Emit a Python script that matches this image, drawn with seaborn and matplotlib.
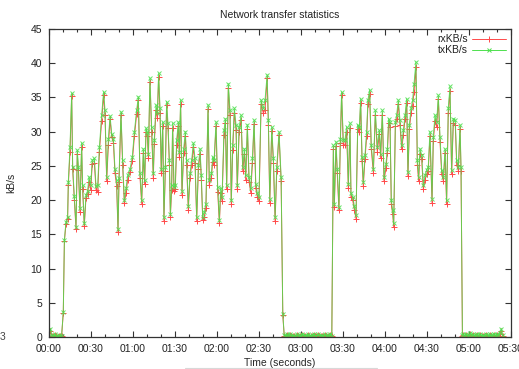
import matplotlib
matplotlib.use("Agg")
import matplotlib.pyplot as plt
import pandas as pd
import seaborn as sns
from matplotlib.ticker import MultipleLocator, FuncFormatter
from matplotlib.lines import Line2D

# --- idle period before the first transfer -------------------------------
idle1_t = [0, 1, 2, 3, 4, 5, 6, 7, 8, 9]
idle1_tx = [0.2, 1.2, 0.3, 0.1, 0.4, 0.2, 0.0, 0.3, 0.1, 0.2]
idle1_rx = [0.1, 0.9, 0.2, 0.1, 0.3, 0.1, 0.0, 0.2, 0.1, 0.1]

# --- first transfer --------------------------------------------------------
burst1_t = [10.2, 11.0, 12.1, 13.3, 13.8, 15.0, 16.2, 16.9, 18.1, 19.3,
            20.2, 21.0, 22.1, 23.3, 24.0, 25.2, 26.4, 27.6, 28.6, 29.8,
            30.9, 32.4, 33.6, 34.8, 36.0, 37.6, 39.0, 40.0, 41.2, 42.4,
            43.6, 44.8, 46.0, 47.1, 48.3, 49.3, 50.0, 51.4, 52.6, 53.8,
            55.0, 56.2, 57.9, 59.5, 61.0, 62.6, 63.8, 65.0, 66.2, 67.4,
            68.3, 69.3, 70.2, 71.0, 72.1, 73.3, 74.5, 75.2, 76.4, 77.4,
            78.3, 79.3, 80.2, 81.2, 82.1, 83.1, 84.0, 85.0, 86.0, 86.7,
            87.6, 88.3, 89.3, 90.2, 91.2, 92.4, 93.1, 94.0, 95.0, 96.2,
            97.4, 98.3, 99.5, 100.7, 101.9, 103.1, 104.3, 105.5, 106.7, 107.9,
            108.8, 109.8, 111.0, 112.1, 113.6, 114.5, 116.0, 116.9, 117.9, 119.3,
            120.5, 121.7, 122.6, 123.6, 125.0, 126.0, 126.9, 128.1, 129.3, 130.2,
            131.2, 132.4, 133.6, 134.5, 135.8, 137.2, 138.4, 139.6, 140.5, 141.7,
            142.9, 144.1, 145.3, 146.5, 147.7, 148.9, 150.0, 151.5, 153.1, 154.3,
            155.8, 156.7, 157.7, 159.1, 160.3, 161.5, 162.7, 164.3, 165.8, 167.0]
burst1_tx = [3.65, 14.2, 16.8, 17.6, 22.7, 27.8, 35.6, 24.9, 20.6, 16.1,
             27.3, 24.9, 18.8, 28.3, 22.2, 16.6, 20.7, 21.4, 23.4, 22.2,
             25.8, 26.1, 22.0, 22.2, 27.7, 32.4, 35.8, 33.2, 23.4, 28.9,
             32.3, 29.7, 29.0, 24.6, 22.9, 15.8, 23.2, 32.9, 25.8, 20.0,
             21.7, 23.6, 24.6, 26.3, 30.0, 33.1, 35.1, 23.9, 20.0, 27.5,
             22.9, 30.5, 30.0, 26.8, 37.8, 30.7, 23.9, 28.8, 33.9, 32.7,
             38.5, 33.4, 24.6, 31.4, 17.5, 24.9, 34.4, 31.2, 25.8, 18.0,
             22.2, 31.2, 21.9, 22.2, 28.8, 31.4, 27.0, 34.6, 21.4, 27.5,
             30.0, 25.8, 19.2, 23.9, 25.8, 28.3, 26.1, 17.5, 25.1, 27.5,
             23.6, 17.5, 18.3, 19.5, 33.9, 22.9, 23.9, 26.3, 25.8, 31.4,
             21.9, 17.1, 21.7, 20.5, 30.2, 31.9, 22.2, 37.0, 33.1, 20.0,
             28.0, 33.4, 31.0, 22.2, 30.7, 32.4, 24.9, 27.5, 23.6, 31.0,
             23.4, 21.7, 26.1, 31.7, 22.4, 21.0, 20.5, 34.6, 33.4, 34.6,
             38.3, 31.7, 20.2, 30.7, 26.1, 17.5, 24.9, 30.0, 23.4, 3.4]
burst1_rx = [3.5, 14.0, 16.5, 17.3, 22.2, 27.0, 35.2, 24.5, 20.0, 15.8,
             26.8, 24.4, 18.3, 27.8, 21.6, 16.2, 20.3, 20.9, 22.6, 21.5,
             25.3, 25.4, 21.5, 21.2, 27.1, 31.6, 35.3, 32.4, 22.8, 28.0,
             31.8, 29.2, 28.4, 24.0, 22.1, 15.4, 22.7, 32.4, 25.1, 19.6,
             21.0, 23.0, 24.1, 25.7, 29.3, 32.6, 34.6, 23.3, 19.5, 26.9,
             22.3, 29.9, 29.4, 26.1, 37.3, 30.0, 23.2, 28.2, 33.1, 32.0,
             38.0, 32.7, 24.0, 30.8, 17.0, 24.2, 33.9, 30.5, 25.2, 17.6,
             21.5, 30.6, 21.3, 21.6, 28.1, 30.9, 26.3, 34.0, 20.8, 26.9,
             29.3, 25.2, 18.6, 23.3, 25.1, 27.7, 25.4, 17.0, 24.5, 26.8,
             23.0, 17.1, 17.6, 18.9, 33.3, 22.2, 23.3, 25.6, 25.2, 30.8,
             21.2, 16.6, 21.0, 19.9, 29.5, 31.3, 21.6, 36.4, 32.4, 19.5,
             27.3, 32.8, 30.3, 21.6, 30.0, 31.7, 24.3, 26.8, 23.0, 30.4,
             22.7, 21.1, 25.4, 31.1, 21.7, 20.4, 19.8, 34.0, 32.7, 33.2,
             37.8, 31.0, 19.6, 30.1, 25.4, 16.9, 24.3, 29.5, 22.8, 3.2]

# --- idle period between the transfers ------------------------------------
idle2_t = list(range(168, 203))
idle2_tx = [0.3, 0.1, 0.4, 0.2, 0.5, 0.1, 0.3, 0.2, 0.0, 0.4,
            0.2, 0.3, 0.1, 0.5, 0.2, 0.3, 0.1, 0.4, 0.2, 0.1,
            0.3, 0.5, 0.2, 0.1, 0.4, 0.2, 0.3, 0.1, 0.2, 0.4,
            0.1, 0.3, 0.2, 0.5, 0.1]
idle2_rx = [0.2, 0.1, 0.3, 0.1, 0.3, 0.1, 0.2, 0.1, 0.0, 0.3,
            0.1, 0.2, 0.1, 0.3, 0.1, 0.2, 0.1, 0.3, 0.1, 0.1,
            0.2, 0.3, 0.1, 0.1, 0.3, 0.1, 0.2, 0.1, 0.1, 0.3,
            0.1, 0.2, 0.1, 0.3, 0.1]

# --- second transfer ------------------------------------------------------
burst2_t = [203.1, 203.8, 205.0, 205.9, 207.1, 208.1, 209.0, 210.2, 211.4, 212.6,
            213.8, 215.0, 215.7, 216.9, 218.1, 219.3, 220.5, 221.7, 222.6, 223.6,
            224.5, 225.7, 226.9, 227.8, 229.0, 230.2, 231.7, 233.1, 234.5, 235.9,
            236.9, 238.1, 239.3, 240.7, 241.7, 242.6, 243.6, 244.5, 245.5, 246.2,
            247.4, 248.3, 249.5, 250.7, 251.9, 253.1, 254.3, 255.5, 256.4, 257.4,
            258.6, 259.7, 260.7, 262.1, 263.1, 264.0, 265.0, 266.2, 267.4, 268.6,
            269.7, 270.9, 272.1, 273.6, 274.5, 275.7, 276.9, 278.1, 279.3, 280.5,
            281.7, 282.9, 284.0, 285.2, 286.4, 287.6, 288.8, 290.2, 291.2, 292.4,
            293.6, 294.3, 295.3]
burst2_tx = [28.0, 19.5, 28.5, 24.6, 19.0, 29.0, 35.8, 28.8, 28.8, 30.7,
             22.4, 31.2, 21.0, 20.5, 19.2, 17.8, 31.0, 30.7, 34.8, 26.3,
             22.7, 26.6, 30.0, 34.6, 36.1, 28.0, 24.6, 33.1, 27.8, 30.2,
             26.8, 33.1, 23.4, 25.3, 27.5, 31.9, 31.4, 20.0, 18.5, 16.6,
             31.4, 32.4, 34.6, 31.7, 28.0, 30.2, 32.4, 34.8, 24.1, 31.0,
             33.4, 34.6, 37.0, 40.2, 25.8, 23.4, 27.5, 26.6, 22.2, 23.6,
             24.4, 24.9, 30.0, 20.2, 29.2, 32.4, 31.4, 35.3, 29.2, 24.4,
             23.4, 27.5, 20.0, 33.4, 36.6, 24.4, 31.9, 31.7, 25.8, 24.9,
             31.0, 24.9, 0.3]
burst2_rx = [27.4, 19.0, 27.9, 23.9, 18.5, 28.3, 35.3, 28.0, 28.1, 30.0,
             21.8, 30.6, 20.4, 20.0, 18.6, 17.3, 30.4, 30.0, 34.2, 25.7,
             22.1, 26.0, 29.3, 34.0, 35.5, 27.4, 24.0, 32.5, 27.1, 29.6,
             26.2, 32.5, 22.8, 24.7, 26.9, 31.3, 30.7, 19.4, 17.9, 16.1,
             30.8, 31.8, 34.0, 31.0, 27.4, 29.5, 31.8, 34.2, 23.5, 30.4,
             32.7, 33.8, 35.8, 39.5, 25.2, 22.8, 26.8, 26.0, 21.6, 23.0,
             23.8, 24.3, 29.3, 19.6, 28.6, 31.6, 30.7, 34.7, 28.5, 23.8,
             22.8, 26.9, 19.4, 32.8, 36.0, 23.8, 31.2, 31.0, 25.1, 24.3,
             30.4, 24.3, 0.2]

# --- idle period after the second transfer --------------------------------
idle3_t = list(range(296, 325))
idle3_tx = [0.4, 0.2, 0.5, 0.1, 0.3, 0.6, 0.2, 0.4, 0.1, 0.3,
            0.5, 0.2, 0.4, 0.1, 0.3, 0.2, 0.5, 0.3, 0.1, 0.4,
            0.2, 0.3, 0.5, 0.2, 0.4, 0.3, 0.6, 1.2, 0.3]
idle3_rx = [0.3, 0.1, 0.3, 0.1, 0.2, 0.4, 0.1, 0.3, 0.1, 0.2,
            0.3, 0.1, 0.3, 0.1, 0.2, 0.1, 0.3, 0.2, 0.1, 0.3,
            0.1, 0.2, 0.3, 0.1, 0.3, 0.2, 0.4, 0.9, 0.2]

seconds = idle1_t + burst1_t + idle2_t + burst2_t + idle3_t
tx_kbs = idle1_tx + burst1_tx + idle2_tx + burst2_tx + idle3_tx
rx_kbs = idle1_rx + burst1_rx + idle2_rx + burst2_rx + idle3_rx

df = pd.DataFrame({"seconds": seconds, "rxKB/s": rx_kbs, "txKB/s": tx_kbs})

sns.set_style("ticks")
plt.rcParams["font.family"] = ["Liberation Sans", "DejaVu Sans"]
plt.rcParams["text.color"] = "#222222"

fig = plt.figure(figsize=(5.19, 3.69), dpi=100)
ax = fig.add_axes([49 / 519, 1 - 337 / 369, 462 / 519, 308 / 369])

rx_color = "#ff4a4a"
tx_color = "#4ee04e"
sns.lineplot(data=df, x="seconds", y="rxKB/s", ax=ax, estimator=None, sort=False,
             color=rx_color, lw=0.7, marker="+", markersize=4, mew=0.7,
             mec=rx_color, legend=False)
sns.lineplot(data=df, x="seconds", y="txKB/s", ax=ax, estimator=None, sort=False,
             color=tx_color, lw=0.7, marker="x", markersize=3.5, mew=0.7,
             mec=tx_color, alpha=0.85, legend=False)

ax.set_xlim(0, 330)
ax.set_ylim(0, 45)
ax.xaxis.set_major_locator(MultipleLocator(30))
ax.xaxis.set_minor_locator(MultipleLocator(10))
ax.yaxis.set_major_locator(MultipleLocator(5))
ax.xaxis.set_major_formatter(
    FuncFormatter(lambda v, p: f"{int(round(v)) // 60:02d}:{int(round(v)) % 60:02d}"))
ax.tick_params(which="both", direction="in", top=True, right=True,
               labelsize=7.5, color="#333333", labelcolor="#222222", width=0.8)
ax.tick_params(which="major", length=4, pad=5)
ax.tick_params(which="minor", length=2.5)
for sp in ax.spines.values():
    sp.set_color("#333333")
    sp.set_linewidth(0.9)

ax.set_xlabel("Time (seconds)", fontsize=7.5, labelpad=3)
ax.set_ylabel("kB/s", fontsize=7.5, labelpad=10)
ax.set_title("Network transfer statistics", fontsize=7.5, pad=8)

handles = [Line2D([], [], color=rx_color, lw=0.7, marker="+", markersize=4, mew=0.7),
           Line2D([], [], color=tx_color, lw=0.7, marker="x", markersize=3.5, mew=0.7)]
ax.legend(handles, ["rxKB/s", "txKB/s"], loc="upper right", frameon=False,
          markerfirst=False, fontsize=7.5, handlelength=3.2, handletextpad=0.4,
          labelspacing=0.1, borderaxespad=0.3, borderpad=0.2)

# stray glyph and faint rule along the bottom edge of the canvas
fig.text(3 / 519, 1 - 337 / 369, "3", fontsize=7.5, color="#444444",
         ha="center", va="center")
fig.add_artist(Line2D([185 / 519, 377 / 519], [1 - 367.5 / 369, 1 - 367.5 / 369],
                      color="#d8d8d8", lw=0.8))

fig.savefig("out.png", dpi=100)
